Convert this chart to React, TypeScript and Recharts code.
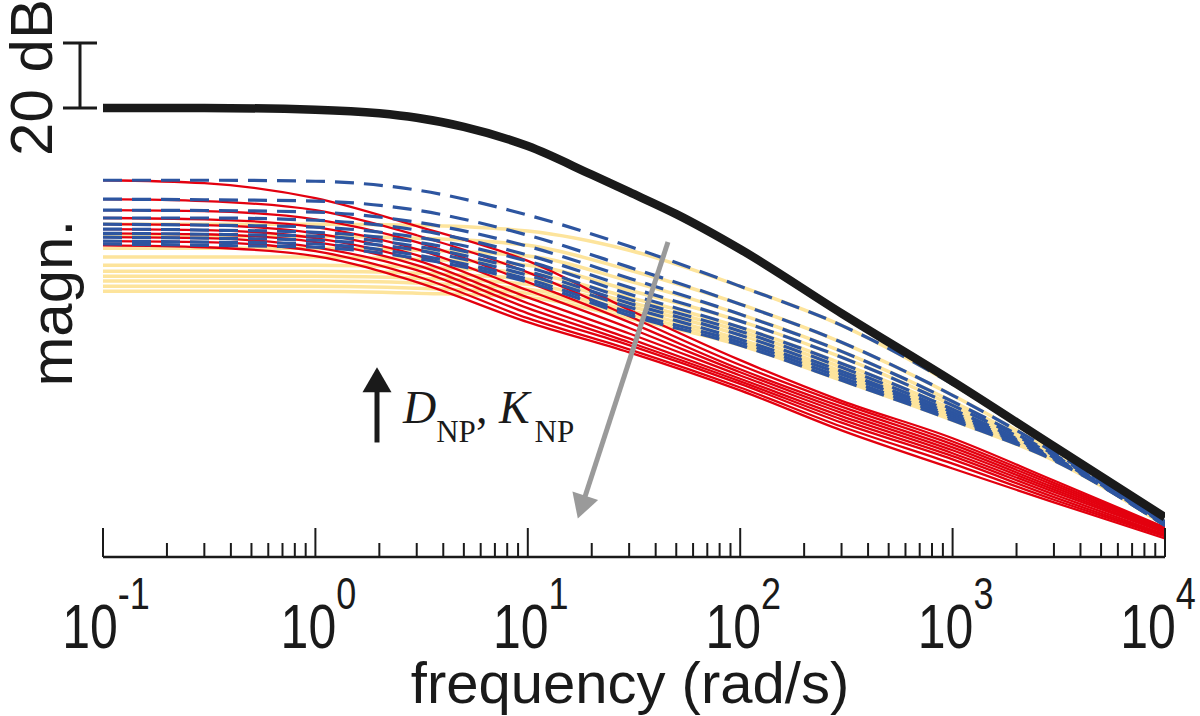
import React from 'react';
import { LineChart, Line, XAxis, YAxis, ReferenceLine, ReferenceDot, Label } from 'recharts';

const FREQ = [0.1, 0.3, 1, 3, 10, 30, 100, 300, 1000, 3000, 10000];

// Reference (black, thick) curve, magnitude in dB
const BLACK_FREQ = [0.1, 0.3, 1, 2, 3, 5, 10, 20, 30, 50, 100, 300, 1000, 3000, 10000];
const BLACK_DB = [0, 0, -0.5, -1.6, -3.0, -5.8, -11.7, -20.5, -25.8, -32.6, -43.4, -63.1, -84, -104, -125.8];

// Blue dashed family (dB)
const BLUE_DB = [
  [-22.2, -22.2, -22.5, -25.2, -32.9, -42.5, -54.8, -66.8, -84.9, -104.9, -127.1],
  [-28.0, -28.2, -28.6, -31.4, -39.1, -48.9, -60.3, -72.0, -88.3, -105.8, -127.4],
  [-31.4, -31.5, -32.0, -35.1, -42.5, -52.3, -63.4, -74.8, -90.2, -106.5, -127.7],
  [-33.8, -33.8, -34.5, -37.5, -45.2, -55.1, -65.5, -76.6, -91.4, -106.8, -127.7],
  [-35.7, -36.0, -36.6, -39.7, -47.1, -57.2, -67.4, -78.5, -92.6, -107.4, -128.0],
  [-37.2, -37.5, -38.2, -41.2, -48.9, -58.8, -68.6, -79.7, -93.5, -107.4, -128.0],
  [-38.5, -38.8, -39.4, -42.5, -50.2, -60.0, -69.8, -80.9, -94.2, -107.7, -128.0],
  [-39.7, -40.0, -40.6, -43.7, -51.4, -61.2, -71.1, -81.8, -94.8, -108.0, -128.3],
  [-40.9, -41.2, -41.8, -45.2, -52.6, -62.8, -72.0, -82.8, -95.4, -108.0, -128.3],
  [-41.8, -42.2, -42.8, -46.2, -53.5, -63.7, -72.9, -83.7, -96.0, -108.3, -128.3],
];

// Red solid family (dB)
const RED_DB = [
  [-22.2, -23.1, -27.7, -36.3, -47.0, -62.0, -77.5, -90.0, -101.5, -114.5, -128.9],
  [-28.0, -28.6, -31.4, -39.1, -50.5, -64.0, -79.0, -90.8, -102.5, -115.2, -129.2],
  [-31.4, -31.7, -34.2, -41.2, -53.5, -65.8, -80.3, -91.8, -103.4, -115.9, -129.5],
  [-33.8, -34.2, -36.6, -43.4, -56.0, -67.6, -81.2, -92.8, -104.3, -116.6, -129.8],
  [-35.7, -36.0, -38.5, -45.2, -58.2, -69.3, -82.2, -93.7, -105.2, -117.3, -130.2],
  [-37.2, -37.5, -40.0, -46.8, -60.0, -70.8, -83.2, -94.7, -106.1, -118.0, -130.5],
  [-38.5, -38.8, -41.2, -48.3, -61.5, -72.0, -84.0, -95.7, -107.0, -118.8, -131.1],
  [-39.7, -40.0, -42.8, -49.8, -63.1, -72.9, -84.8, -96.7, -108.0, -119.6, -131.4],
  [-40.9, -41.2, -44.0, -51.7, -64.6, -74.2, -85.9, -97.9, -109.3, -120.4, -131.7],
  [-42.2, -42.8, -45.5, -53.5, -65.8, -75.1, -86.8, -99.1, -110.8, -121.2, -132.3],
];

// Light yellow solid family (dB)
const YELLOW_DB = [
  [-35.7, -35.7, -35.7, -36.0, -37.8, -43.7, -54.8, -66.8, -84.9, -104.9, -127.1],
  [-39.4, -39.4, -39.4, -40.0, -42.2, -49.8, -60.3, -72.0, -88.3, -105.8, -127.4],
  [-43.1, -43.1, -43.1, -43.7, -45.5, -53.2, -63.4, -74.8, -90.2, -106.5, -127.7],
  [-45.8, -45.8, -45.8, -46.5, -48.3, -56.0, -65.5, -76.6, -91.4, -106.8, -127.7],
  [-48.3, -48.3, -48.3, -48.9, -50.8, -58.2, -67.4, -78.5, -92.6, -107.4, -128.0],
  [-50.2, -50.2, -50.2, -50.8, -52.6, -59.7, -68.6, -79.7, -93.5, -107.4, -128.0],
  [-51.7, -51.7, -51.7, -52.3, -54.2, -60.9, -69.8, -80.9, -94.2, -107.7, -128.0],
  [-53.2, -53.2, -53.2, -53.8, -55.7, -62.2, -71.1, -81.8, -94.8, -108.0, -128.3],
  [-54.8, -54.8, -54.8, -55.4, -56.9, -63.4, -72.0, -82.8, -95.4, -108.0, -128.3],
  [-56.3, -56.3, -56.3, -56.9, -58.2, -64.6, -72.9, -83.7, -96.0, -108.3, -128.3],
];

// Axis ticks
const MAJOR_TICKS = [0.1, 1, 10, 100, 1000, 10000];
const MAJOR_EXPONENTS = ['-1', '0', '1', '2', '3', '4'];
const MINOR_TICKS = [
  0.2, 0.3, 0.4, 0.5, 0.6, 0.7, 0.8, 0.9,
  2, 3, 4, 5, 6, 7, 8, 9,
  20, 30, 40, 50, 60, 70, 80, 90,
  200, 300, 400, 500, 600, 700, 800, 900,
  2000, 3000, 4000, 5000, 6000, 7000, 8000, 9000,
];
const ALL_TICKS = [...MAJOR_TICKS, ...MINOR_TICKS].sort((a, b) => a - b);

// Annotations, in data coordinates
const SCALE_BAR = [{ x: 0.1, y: 0 }, { x: 0.1, y: 20 }];
const GRAY_ARROW = [{ x: 45.7, y: -41.2 }, { x: 17.2, y: -126.2 }];
const BLACK_ARROW = [{ x: 1.95, y: -102.8 }, { x: 1.95, y: -79.7 }];
const Y_TITLE_AT = { x: 0.1, y: -60 };

const SANS = "'Liberation Sans', Arial, Helvetica, sans-serif";
const SERIF = "'Liberation Serif', 'Times New Roman', serif";
const INK = '#1a1a1a';
const RED = '#e3000f';
const BLUE = '#2d55a0';
const YELLOW = '#fde49c';

const toSeries = (freqs: number[], vals: number[]) => freqs.map((f, i) => ({ f, v: vals[i] }));

function FreqTick(props: any) {
  const { x, y, payload } = props;
  const v = payload.value;
  const idx = MAJOR_TICKS.findIndex((t) => Math.abs(t - v) / v < 1e-6);
  const major = idx >= 0;
  const lx = x + (idx === MAJOR_TICKS.length - 1 ? -7 : 3);
  return (
    <g>
      <line x1={x} x2={x} y1={y} y2={y - (major ? 29 : 14)} stroke={INK} strokeWidth={2} />
      {major && (
        <g transform={`translate(${lx} ${y + 91}) scale(1 1.25)`}>
          <text x={0} y={0} textAnchor="middle" fontFamily={SANS} fontSize={50} fill={INK}>
            10
            <tspan dy={-31} fontSize={36}>
              {MAJOR_EXPONENTS[idx]}
            </tspan>
          </text>
        </g>
      )}
    </g>
  );
}

function makeArrow(color: string, width: number, headLen: number, headW: number) {
  return (p: any) => {
    const { x1, y1, x2, y2 } = p;
    const dx = x2 - x1;
    const dy = y2 - y1;
    const L = Math.hypot(dx, dy) || 1;
    const ux = dx / L;
    const uy = dy / L;
    const bx = x2 - ux * headLen;
    const by = y2 - uy * headLen;
    const nx = -uy;
    const ny = ux;
    return (
      <g>
        <line x1={x1} y1={y1} x2={bx + ux} y2={by + uy} stroke={color} strokeWidth={width} />
        <polygon
          points={`${x2},${y2} ${bx + (nx * headW) / 2},${by + (ny * headW) / 2} ${bx - (nx * headW) / 2},${by - (ny * headW) / 2}`}
          fill={color}
        />
      </g>
    );
  };
}

function ScaleBarShape(p: any) {
  const x = p.x1 - 23;
  const yTop = Math.min(p.y1, p.y2);
  const yBot = Math.max(p.y1, p.y2);
  const mid = (yTop + yBot) / 2 + 2;
  const tx = x - 28;
  return (
    <g>
      <line x1={x} x2={x} y1={yTop} y2={yBot} stroke={INK} strokeWidth={3} />
      <line x1={x - 17} x2={x + 17} y1={yTop} y2={yTop} stroke={INK} strokeWidth={3} />
      <line x1={x - 17} x2={x + 17} y1={yBot} y2={yBot} stroke={INK} strokeWidth={3} />
      <text
        x={tx}
        y={mid}
        transform={`rotate(-90 ${tx} ${mid})`}
        textAnchor="middle"
        fontFamily={SANS}
        fontSize={60}
        fill={INK}
      >
        20 dB
      </text>
    </g>
  );
}

function YTitleShape(p: any) {
  const x = p.cx - 31;
  const y = p.cy;
  return (
    <text x={x} y={y} transform={`rotate(-90 ${x} ${y})`} textAnchor="middle" fontFamily={SANS} fontSize={60} fill={INK}>
      magn.
    </text>
  );
}

function ParamLabel(p: any) {
  const { cx, cy } = p;
  return (
    <text x={cx + 26} y={cy - 19} fontFamily={SERIF} fontSize={46} fill={INK}>
      <tspan fontStyle="italic">D</tspan>
      <tspan fontSize={31} dy={19}>NP</tspan>
      <tspan dy={-19}>, </tspan>
      <tspan fontStyle="italic">K</tspan>
      <tspan fontSize={31} dy={19} dx={5}>NP</tspan>
    </text>
  );
}

function XTitle(p: any) {
  const vb = p.viewBox || {};
  return (
    <text x={vb.x + vb.width / 2 - 4} y={vb.y + 146} textAnchor="middle" fontFamily={SANS} fontSize={58} fill={INK}>
      frequency (rad/s)
    </text>
  );
}

const blackArrow = makeArrow(INK, 5, 25, 29);
const grayArrow = makeArrow('#9a9a9a', 5, 24, 27);

export default function App() {
  return (
    <div style={{ position: 'absolute', left: 0, top: 0, width: 1200, height: 716, background: '#fff' }}>
      <LineChart width={1200} height={716} margin={{ top: 82, right: 35, bottom: 0, left: 103 }}>
        <XAxis
          dataKey="f"
          type="number"
          scale="log"
          domain={[0.1, 10000]}
          ticks={ALL_TICKS}
          interval={0}
          allowDataOverflow
          height={159}
          tickSize={0}
          tickMargin={0}
          tickLine={false}
          tick={<FreqTick />}
          axisLine={{ stroke: INK, strokeWidth: 2.5 }}
          label={<Label content={<XTitle />} />}
        />
        <YAxis
          type="number"
          domain={[-138, 8]}
          allowDataOverflow
          width={0}
          tick={false}
          tickLine={false}
          axisLine={{ stroke: INK, strokeWidth: 2.5 }}
        />
        {YELLOW_DB.map((vals, i) => (
          <Line
            key={`y${i}`}
            data={toSeries(FREQ, vals)}
            dataKey="v"
            type="monotone"
            stroke={YELLOW}
            strokeWidth={3.5}
            dot={false}
            activeDot={false}
            isAnimationActive={false}
          />
        ))}
        {RED_DB.map((vals, i) => (
          <Line
            key={`r${i}`}
            data={toSeries(FREQ, vals)}
            dataKey="v"
            type="monotone"
            stroke={RED}
            strokeWidth={2.3}
            dot={false}
            activeDot={false}
            isAnimationActive={false}
          />
        ))}
        {BLUE_DB.map((vals, i) => (
          <Line
            key={`b${i}`}
            data={toSeries(FREQ, vals)}
            dataKey="v"
            type="monotone"
            stroke={BLUE}
            strokeWidth={3.2}
            strokeDasharray="19 10"
            dot={false}
            activeDot={false}
            isAnimationActive={false}
          />
        ))}
        <Line
          data={toSeries(BLACK_FREQ, BLACK_DB)}
          dataKey="v"
          type="monotone"
          stroke={INK}
          strokeWidth={8.5}
          dot={false}
          activeDot={false}
          isAnimationActive={false}
        />
        <ReferenceLine segment={SCALE_BAR} ifOverflow="visible" shape={ScaleBarShape} />
        <ReferenceLine segment={GRAY_ARROW} ifOverflow="visible" shape={grayArrow} />
        <ReferenceLine segment={BLACK_ARROW} ifOverflow="visible" shape={blackArrow} />
        <ReferenceDot x={BLACK_ARROW[0].x} y={BLACK_ARROW[0].y} ifOverflow="visible" shape={ParamLabel} />
        <ReferenceDot x={Y_TITLE_AT.x} y={Y_TITLE_AT.y} ifOverflow="visible" shape={YTitleShape} />
      </LineChart>
    </div>
  );
}
